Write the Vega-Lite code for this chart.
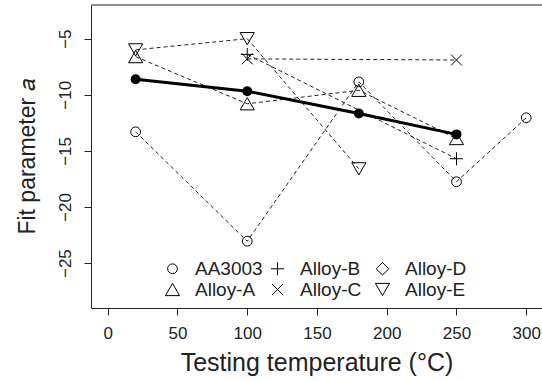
{
  "$schema": "https://vega.github.io/schema/vega-lite/v6.json",
  "width": 451,
  "height": 303,
  "autosize": "none",
  "padding": {"left": 91, "top": 5, "right": 0, "bottom": 73},
  "background": "white",
  "config": {
    "view": {"stroke": null},
    "font": "Liberation Sans",
    "axis": {"grid": false, "domainColor": "#222", "tickColor": "#222", "labelColor": "#222", "titleColor": "#222", "tickSize": 7, "labelFontSize": 17, "titleFontSize": 23, "titleFontWeight": "normal", "labelFont": "Liberation Sans", "titleFont": "Liberation Sans"},
    "axisX": {"labelPadding": 10, "titlePadding": 9, "titleFontSize": 25},
    "axisY": {"labelAngle": -90, "labelAlign": "center", "labelBaseline": "bottom", "labelPadding": 10, "titlePadding": 17}
  },
  "datasets": {
    "alloys": [
      {"series": "AA3003", "T": 20, "a": -13.3},
      {"series": "AA3003", "T": 100, "a": -23.05},
      {"series": "AA3003", "T": 180, "a": -8.85},
      {"series": "AA3003", "T": 250, "a": -17.75},
      {"series": "AA3003", "T": 300, "a": -12.05},
      {"series": "Alloy-A", "T": 20, "a": -6.6},
      {"series": "Alloy-A", "T": 100, "a": -10.8},
      {"series": "Alloy-A", "T": 180, "a": -9.6},
      {"series": "Alloy-A", "T": 250, "a": -13.9},
      {"series": "Alloy-B", "T": 100, "a": -6.4},
      {"series": "Alloy-B", "T": 250, "a": -15.7},
      {"series": "Alloy-C", "T": 100, "a": -6.8},
      {"series": "Alloy-C", "T": 250, "a": -6.9},
      {"series": "Alloy-E", "T": 20, "a": -6.0},
      {"series": "Alloy-E", "T": 100, "a": -5.0},
      {"series": "Alloy-E", "T": 180, "a": -16.6}
    ],
    "mean": [
      {"T": 20, "a": -8.62},
      {"T": 100, "a": -9.68},
      {"T": 180, "a": -11.67},
      {"T": 250, "a": -13.53}
    ],
    "frame": [{"a": -2}]
  },
  "layer": [
    {
      "data": {"name": "frame"},
      "mark": {"type": "rule", "color": "#222", "strokeWidth": 1},
      "encoding": {
        "y": {"field": "a", "type": "quantitative", "scale": {"domain": [-29, -2], "nice": false, "zero": false}, "title": "Fit parameter 𝑎", "axis": {"values": [-25, -20, -15, -10, -5]}}
      }
    },
    {
      "data": {"name": "alloys"},
      "mark": {"type": "line", "color": "#222", "strokeWidth": 1, "strokeDash": [4, 3]},
      "encoding": {
        "x": {"field": "T", "type": "quantitative", "scale": {"domain": [-12, 311.3], "nice": false, "zero": false}, "title": "Testing temperature (°C)", "axis": {"values": [0, 50, 100, 150, 200, 250, 300]}},
        "y": {"field": "a", "type": "quantitative", "scale": {"domain": [-29, -2], "nice": false, "zero": false}, "title": "Fit parameter 𝑎", "axis": {"values": [-25, -20, -15, -10, -5]}},
        "detail": {"field": "series", "type": "nominal"},
        "order": {"field": "T", "type": "quantitative"}
      }
    },
    {
      "data": {"name": "mean"},
      "mark": {"type": "line", "color": "black", "strokeWidth": 3},
      "encoding": {
        "x": {"field": "T", "type": "quantitative", "scale": {"domain": [-12, 311.3], "nice": false, "zero": false}, "title": "Testing temperature (°C)", "axis": {"values": [0, 50, 100, 150, 200, 250, 300]}},
        "y": {"field": "a", "type": "quantitative", "scale": {"domain": [-29, -2], "nice": false, "zero": false}, "title": "Fit parameter 𝑎", "axis": {"values": [-25, -20, -15, -10, -5]}}
      }
    },
    {
      "data": {"name": "alloys"},
      "mark": {"type": "point", "filled": false, "color": "black", "strokeWidth": 1, "opacity": 1},
      "encoding": {
        "x": {"field": "T", "type": "quantitative", "scale": {"domain": [-12, 311.3], "nice": false, "zero": false}, "title": "Testing temperature (°C)", "axis": {"values": [0, 50, 100, 150, 200, 250, 300]}},
        "y": {"field": "a", "type": "quantitative", "scale": {"domain": [-29, -2], "nice": false, "zero": false}, "title": "Fit parameter 𝑎", "axis": {"values": [-25, -20, -15, -10, -5]}},
        "shape": {
          "field": "series", "type": "nominal",
          "scale": {
            "domain": ["AA3003", "Alloy-A", "Alloy-B", "Alloy-C", "Alloy-D", "Alloy-E"],
            "range": ["circle", "triangle-up", "M-1,0L1,0M0,-1L0,1", "M-1,-1L1,1M-1,1L1,-1", "diamond", "triangle-down"]
          },
          "legend": {
            "orient": "none", "legendX": 72, "legendY": 254, "columns": 3, "title": null,
            "gridAlign": "all", "columnPadding": 5, "rowPadding": 1,
            "labelFontSize": 19, "labelFont": "Liberation Sans", "labelColor": "#222", "labelOffset": 13, "labelLimit": 200,
            "symbolStrokeColor": "black", "symbolStrokeWidth": 1, "symbolFillColor": "transparent"
          }
        },
        "size": {
          "field": "series", "type": "nominal",
          "scale": {
            "type": "ordinal",
            "domain": ["AA3003", "Alloy-A", "Alloy-B", "Alloy-C", "Alloy-D", "Alloy-E"],
            "range": [95, 200, 170, 120, 160, 200]
          },
          "legend": {
            "orient": "none", "legendX": 72, "legendY": 254, "columns": 3, "title": null,
            "gridAlign": "all", "columnPadding": 5, "rowPadding": 1,
            "labelFontSize": 19, "labelFont": "Liberation Sans", "labelColor": "#222", "labelOffset": 13, "labelLimit": 200,
            "symbolStrokeColor": "black", "symbolStrokeWidth": 1, "symbolFillColor": "transparent"
          }
        }
      }
    },
    {
      "data": {"name": "mean"},
      "mark": {"type": "point", "filled": true, "color": "black", "size": 100, "opacity": 1},
      "encoding": {
        "x": {"field": "T", "type": "quantitative", "scale": {"domain": [-12, 311.3], "nice": false, "zero": false}, "title": "Testing temperature (°C)", "axis": {"values": [0, 50, 100, 150, 200, 250, 300]}},
        "y": {"field": "a", "type": "quantitative", "scale": {"domain": [-29, -2], "nice": false, "zero": false}, "title": "Fit parameter 𝑎", "axis": {"values": [-25, -20, -15, -10, -5]}}
      }
    }
  ]
}
